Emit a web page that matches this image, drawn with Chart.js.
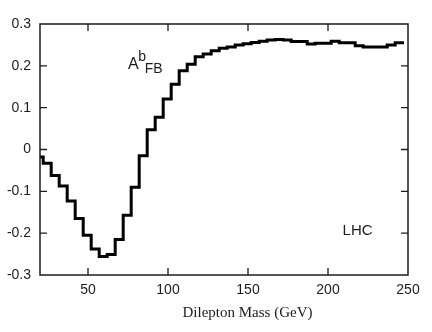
<!DOCTYPE html>
<html>
<head>
<meta charset="utf-8">
<script src="https://cdn.jsdelivr.net/npm/chart.js@4.4.1/dist/chart.umd.min.js"></script>
<style>
  html, body { margin: 0; padding: 0; background: #fff; }
  #chart { display: block; }
</style>
</head>
<body>
<canvas id="chart" width="432" height="332"></canvas>
<script>
// left edge of each mass bin (GeV) and the asymmetry in that bin
const binEdges = [20, 22, 27, 32, 37, 42, 47, 52, 57, 62, 67, 72, 77, 82, 87, 92, 97, 102,
  107, 112, 117, 122, 127, 132, 137, 142, 147, 152, 157, 162, 167, 172, 177, 182, 187,
  192, 197, 202, 207, 212, 217, 222, 227, 232, 237, 242];
const asymmetry = [-0.018, -0.033, -0.062, -0.087, -0.123, -0.165, -0.205, -0.238, -0.256,
  -0.251, -0.215, -0.157, -0.090, -0.015, 0.047, 0.077, 0.121, 0.156, 0.188, 0.204, 0.222,
  0.228, 0.236, 0.242, 0.245, 0.250, 0.253, 0.256, 0.259, 0.262, 0.263, 0.262, 0.258,
  0.258, 0.252, 0.254, 0.254, 0.259, 0.255, 0.255, 0.248, 0.245, 0.245, 0.245, 0.250, 0.255];
const lastEdge = 247.5;

const xTicks = [50, 100, 150, 200, 250];
const yTicks = [-0.3, -0.2, -0.1, 0, 0.1, 0.2, 0.3];
const yTickLabels = ['-0.3', '-0.2', '-0.1', '0', '0.1', '0.2', '0.3'];

const xTitle = 'Dilepton Mass (GeV)';
const curveLabel = { main: 'A', sup: 'b', sub: 'FB', x: 75, y: 0.192 };
const boxLabel = { text: 'LHC', x: 218.5, y: -0.194 };

const points = binEdges.map((m, i) => ({ x: m, y: asymmetry[i] }));
points.push({ x: lastEdge, y: asymmetry[asymmetry.length - 1] });

const sans = '"Liberation Sans", Arial, sans-serif';
const ink = '#1c1c1c';

// gnuplot style frame with ticks pointing inwards on all four sides
const frameTicks = {
    id: 'frameTicks',
    afterDatasetsDraw(chart) {
        const { ctx, chartArea: a, scales: { x, y } } = chart;
        const len = 7;
        ctx.save();
        ctx.strokeStyle = ink;
        ctx.lineWidth = 1.5;
        ctx.strokeRect(a.left, a.top, a.right - a.left, a.bottom - a.top);
        ctx.lineWidth = 1.3;
        ctx.beginPath();
        xTicks.forEach(v => {
            if (v <= x.min || v >= x.max) return;
            const px = x.getPixelForValue(v);
            ctx.moveTo(px, a.bottom); ctx.lineTo(px, a.bottom - len);
            ctx.moveTo(px, a.top); ctx.lineTo(px, a.top + len);
        });
        yTicks.forEach(v => {
            if (v <= y.min || v >= y.max) return;
            const py = y.getPixelForValue(v);
            ctx.moveTo(a.left, py); ctx.lineTo(a.left + len, py);
            ctx.moveTo(a.right, py); ctx.lineTo(a.right - len, py);
        });
        ctx.stroke();
        ctx.restore();
    }
};

const labels = {
    id: 'labels',
    afterDraw(chart) {
        const { ctx, scales: { x, y } } = chart;
        ctx.save();
        ctx.fillStyle = ink;
        ctx.textAlign = 'left';
        ctx.textBaseline = 'alphabetic';

        const ax = x.getPixelForValue(curveLabel.x);
        const ay = y.getPixelForValue(curveLabel.y);
        ctx.font = '16px ' + sans;
        ctx.fillText(curveLabel.main, ax, ay);
        const w = ctx.measureText(curveLabel.main).width;
        ctx.font = '14px ' + sans;
        ctx.fillText(curveLabel.sup, ax + w - 0.5, ay - 8);
        ctx.fillText(curveLabel.sub, ax + w + 6, ay + 4);

        ctx.font = '15px ' + sans;
        ctx.textAlign = 'center';
        ctx.textBaseline = 'middle';
        ctx.fillText(boxLabel.text, x.getPixelForValue(boxLabel.x), y.getPixelForValue(boxLabel.y));

        ctx.font = '15px "Liberation Serif", "Times New Roman", serif';
        ctx.fillText(xTitle, 247.5, 313);
        ctx.restore();
    }
};

const ctx = document.getElementById('chart').getContext('2d');

const afbChart = new Chart(ctx, {
    type: 'line',
    data: {
        datasets: [
            {
                label: 'A_FB^b',
                data: points,
                stepped: 'before',
                borderColor: '#000',
                borderWidth: 3,
                borderJoinStyle: 'miter',
                borderCapStyle: 'butt',
                pointRadius: 0,
                fill: false
            }
        ]
    },
    options: {
        responsive: false,
        animation: false,
        devicePixelRatio: 1,
        layout: { padding: { top: 24, right: 24, left: 0, bottom: 0 } },
        plugins: {
            legend: { display: false },
            tooltip: { enabled: false }
        },
        scales: {
            x: {
                type: 'linear',
                min: 20,
                max: 250,
                grid: { display: false, drawTicks: false },
                border: { display: false },
                afterBuildTicks(scale) { scale.ticks = xTicks.map(v => ({ value: v })); },
                afterFit(scale) { scale.height = 57; },
                ticks: {
                    autoSkip: false,
                    maxRotation: 0,
                    padding: 7,
                    color: ink,
                    font: { family: sans, size: 14 }
                }
            },
            y: {
                type: 'linear',
                min: -0.3,
                max: 0.3,
                grid: { display: false, drawTicks: false },
                border: { display: false },
                afterBuildTicks(scale) { scale.ticks = yTicks.map(v => ({ value: v })); },
                afterFit(scale) { scale.width = 40; },
                ticks: {
                    padding: 9,
                    color: ink,
                    font: { family: sans, size: 14 },
                    callback: (v, i) => yTickLabels[i]
                }
            }
        }
    },
    plugins: [frameTicks, labels]
});
</script>
</body>
</html>
